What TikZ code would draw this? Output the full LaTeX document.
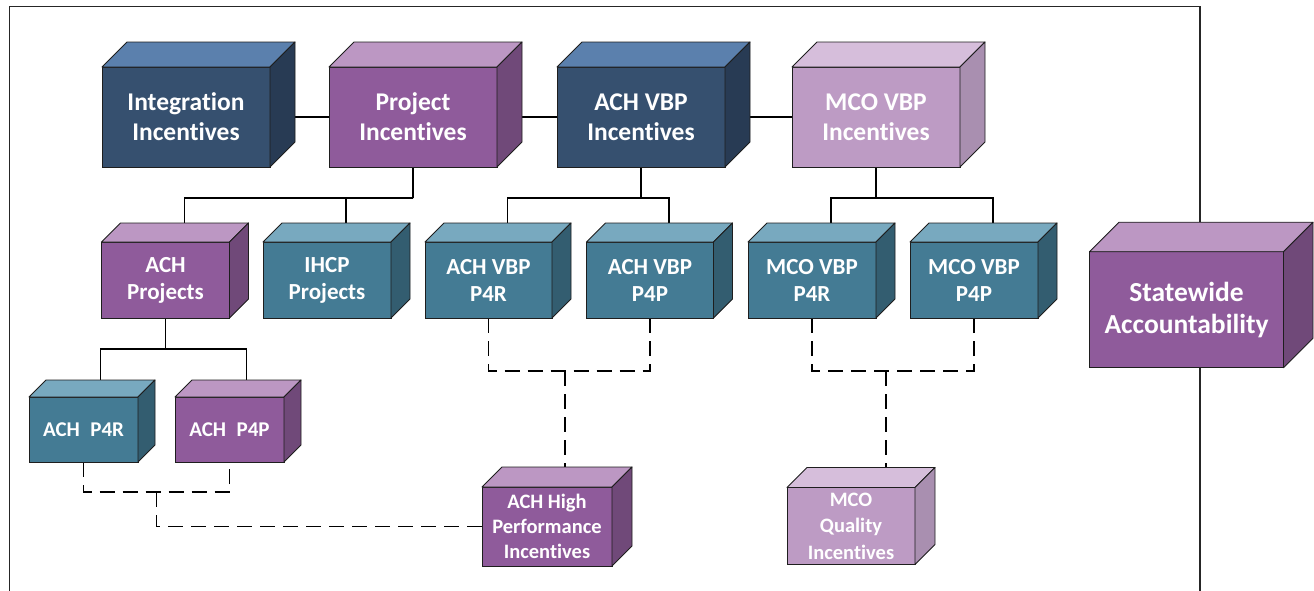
\documentclass[tikz,border=0pt]{standalone}
\usepackage{fontspec}
\setmainfont{Carlito}[Ligatures={TeX,NoCommon}]
\usetikzlibrary{calc,backgrounds}

% face colours of the four box families
\definecolor{navyfront}{HTML}{36506F}
\definecolor{navytop}{HTML}{5B80AD}
\definecolor{navyside}{HTML}{283B54}
\definecolor{purplefront}{HTML}{8F5B9B}
\definecolor{purpletop}{HTML}{BC97C3}
\definecolor{purpleside}{HTML}{704979}
\definecolor{tealfront}{HTML}{447B94}
\definecolor{tealtop}{HTML}{78A9BF}
\definecolor{tealside}{HTML}{335D70}
\definecolor{lilacfront}{HTML}{BD9BC4}
\definecolor{lilactop}{HTML}{D6BEDB}
\definecolor{lilacside}{HTML}{A98FB0}
\definecolor{edgecol}{HTML}{1E1E1E}

\tikzset{
  cubeface/.style={draw=edgecol, line width=0.9pt, rectangle, inner sep=0pt,
    outer sep=0pt, text=white, align=center},
  cubeedge/.style={draw=edgecol, line width=0.9pt, line join=round},
  toptext/.style={font=\fontsize{25.5}{30}\selectfont\bfseries},
  midtext/.style={font=\fontsize{23}{27}\selectfont\bfseries},
  smalltext/.style={font=\fontsize{21}{25}\selectfont\bfseries},
  stacktext/.style={font=\fontsize{20.5}{25}\selectfont\bfseries},
  tighttext/.style={font=\fontsize{20.5}{26.5}\selectfont\bfseries},
  bigtext/.style={font=\fontsize{27.5}{32}\selectfont\bfseries},
  link/.style={line width=1.9pt, black},
  dlink/.style={line width=1.9pt, black, dash pattern=on 15pt off 8pt},
  framestyle/.style={line width=1.2pt, black!85},
}

% box with a front face node, a top face and a right side face
% #1 name, #2 cx, #3 cy, #4 width, #5 height, #6 depth, #7 colour family, #8 text style, #9 text
\newcommand\cubebox[9]{%
  \node[cubeface, fill=#7front, minimum width=#4pt, minimum height=#5pt, #8] (#1) at (#2,#3) {#9};
  \draw[cubeedge, fill=#7top] (#1.north west) -- ++(#6,-#6) -- ($(#1.north east)+(#6,-#6)$) -- (#1.north east) -- cycle;
  \draw[cubeedge, fill=#7side] (#1.north east) -- ++(#6,-#6) -- ($(#1.south east)+(#6,-#6)$) -- (#1.south east) -- cycle;
  \coordinate (#1-top) at ($(#1.north)+(#6,-#6)$);
}

\begin{document}
\begin{tikzpicture}[x=1pt, y=-1pt]
\useasboundingbox (0,0) rectangle (1314,590);

% top row
\cubebox{integ}{186}{117}{168}{100}{25}{navy}{toptext}{Integration\\Incentives}
\cubebox{proj}{413}{117}{168}{100}{25}{purple}{toptext}{Project\\Incentives}
\cubebox{achvbp}{641}{117}{168}{100}{25}{navy}{toptext}{ACH VBP\\Incentives}
\cubebox{mcovbp}{876}{117}{168}{100}{25}{lilac}{toptext}{MCO VBP\\Incentives}

% second row
\cubebox{achproj}{165.5}{280}{128}{76}{19}{purple}{midtext}{ACH\\Projects}
\cubebox{ihcp}{327}{280}{128}{76}{19}{teal}{midtext}{IHCP\\Projects}
\cubebox{achpr}{488.5}{280}{127}{76}{19}{teal}{midtext}{ACH VBP\\P4R}
\cubebox{achpp}{650}{280}{127}{76}{19}{teal}{midtext}{ACH VBP\\P4P}
\cubebox{mcopr}{812}{280}{128}{76}{19}{teal}{midtext}{MCO VBP\\P4R}
\cubebox{mcopp}{974}{280}{128}{76}{19}{teal}{midtext}{MCO VBP\\P4P}

% statewide box
\cubebox{state}{1186.5}{309.7}{194}{116}{29.5}{purple}{bigtext}{Statewide\\Accountability}

% lower boxes
\cubebox{achr}{83.5}{429.5}{109}{65}{17}{teal}{smalltext}{ACH\enspace P4R}
\cubebox{achp}{229.5}{429.5}{109}{65}{17}{purple}{smalltext}{ACH\enspace P4P}
\cubebox{achhigh}{547}{526.5}{130}{79}{20}{purple}{stacktext}{ACH High\\Performance\\Incentives}
\cubebox{mcoq}{851}{526}{128}{77}{20}{lilac}{tighttext}{MCO\\Quality\\Incentives}

\begin{pgfonlayer}{background}
  % outer frame
  \draw[framestyle] (9.5,595) -- (9.5,6.5) -- (1200,6.5) -- (1200,595);

  % chain along the top row
  \draw[link] (integ.center) -- (mcovbp.center);

  % solid trees
  \coordinate (busA) at ($(proj.south)+(0,31)$);
  \draw[link] (proj.south) -- (busA);
  \draw[link] (achproj-top) |- (busA) -| (ihcp-top);

  \coordinate (busB) at ($(achvbp.south)+(0,31)$);
  \draw[link] (achvbp.south) -- (busB);
  \draw[link] (achpr-top) |- (busB) -| (achpp-top);

  \coordinate (busC) at ($(mcovbp.south)+(0,31)$);
  \draw[link] (mcovbp.south) -- (busC);
  \draw[link] (mcopr-top) |- (busC) -| (mcopp-top);

  \coordinate (busD) at ($(achproj.south)+(0,31)$);
  \draw[link] (achproj.south) -- (busD);
  \draw[link] (achr-top) |- (busD) -| (achp-top);

  % dashed links to the high performance and quality boxes
  \draw[dlink] (achpr.south) -- ++(0,53) -| (achpp.south);
  \coordinate (dashA) at ($(achpr.south)!0.5!(achpp.south)+(-4,53)$);
  \draw[dlink] (dashA) -- (dashA |- achhigh-top);

  \draw[dlink] (mcopr.south) -- ++(0,53) -| (mcopp.south);
  \coordinate (dashB) at ($(mcopr.south)!0.5!(mcopp.south)+(-7,53)$);
  \draw[dlink] (dashB) -- (dashB |- mcoq-top);

  \draw[dlink] (achr.south) -- ++(0,30) -| (achp.south);
  \coordinate (dashC) at ($(achr.south)!0.5!(achp.south)+(0,30)$);
  \draw[dlink] (dashC) |- (achhigh.west);
\end{pgfonlayer}
\end{tikzpicture}
\end{document}
